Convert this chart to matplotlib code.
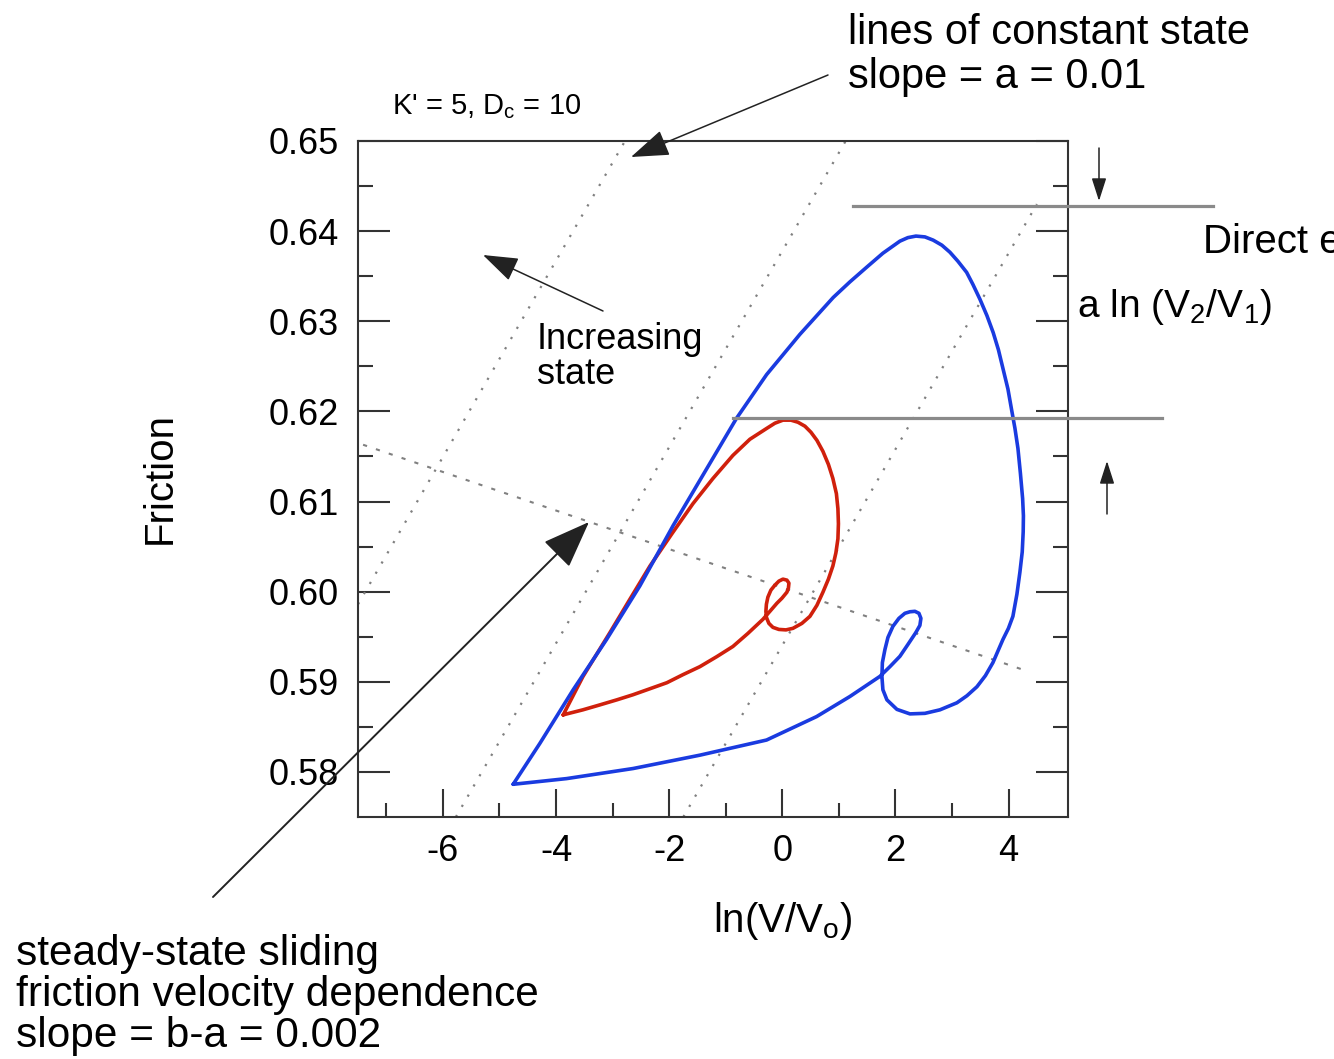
import matplotlib
matplotlib.use('Agg')
import matplotlib.pyplot as plt
from matplotlib.patches import FancyArrowPatch

plt.rcParams['font.family'] = ['Liberation Sans', 'DejaVu Sans']
plt.rcParams['mathtext.fontset'] = 'custom'
plt.rcParams['mathtext.rm'] = 'Liberation Sans'
plt.rcParams['mathtext.it'] = 'Liberation Sans'
plt.rcParams['axes.unicode_minus'] = False

# ---------------- data ----------------
blue_lnv = [-4.757, -4.285, -3.696, -3.106, -2.517, -1.929, -1.404, -0.808, -0.278, 0.311,
            0.900, 1.195, 1.490, 1.778, 2.079, 2.220, 2.362, 2.521, 2.667, 2.821,
            2.963, 3.104, 3.258, 3.369, 3.493, 3.617, 3.728, 3.820, 3.905, 3.988,
            4.053, 4.112, 4.165, 4.209, 4.248, 4.262, 4.258, 4.241, 4.200, 4.147,
            4.076, 3.997, 3.900, 3.723, 3.590, 3.440, 3.263, 3.086, 2.786, 2.521,
            2.256, 2.026, 1.849, 1.778, 1.761, 1.769, 1.814, 1.867, 1.955, 2.061,
            2.167, 2.256, 2.344, 2.415, 2.450, 2.432, 2.362, 2.220, 2.079, 1.902,
            1.725, 1.195, 0.606, -0.278, -1.457, -2.636, -3.813, -4.757]
blue_mu = [0.57863, 0.58317, 0.58912, 0.59470, 0.60065, 0.60734, 0.61292, 0.61925, 0.62408, 0.62855,
           0.63264, 0.63437, 0.63599, 0.63755, 0.63889, 0.63928, 0.63945, 0.63936, 0.63900, 0.63844,
           0.63766, 0.63666, 0.63543, 0.63409, 0.63245, 0.63063, 0.62874, 0.62684, 0.62464, 0.62249,
           0.62018, 0.61813, 0.61590, 0.61311, 0.61032, 0.60842, 0.60664, 0.60441, 0.60217, 0.59972,
           0.59726, 0.59593, 0.59470, 0.59213, 0.59068, 0.58945, 0.58845, 0.58767, 0.58689, 0.58650,
           0.58644, 0.58694, 0.58800, 0.58912, 0.59057, 0.59213, 0.59358, 0.59492, 0.59615, 0.59704,
           0.59760, 0.59777, 0.59782, 0.59760, 0.59704, 0.59626, 0.59548, 0.59414, 0.59283, 0.59168,
           0.59060, 0.58837, 0.58614, 0.58354, 0.58186, 0.58038, 0.57926, 0.57863]

red_lnv = [-3.873, -3.525, -3.048, -2.694, -2.340, -1.952, -1.580, -1.227, -0.873, -0.573,
           -0.272, -0.131, 0.011, 0.152, 0.276, 0.400, 0.506, 0.612, 0.718, 0.815,
           0.894, 0.956, 0.983, 0.992, 0.983, 0.947, 0.894, 0.815, 0.718, 0.612,
           0.488, 0.346, 0.187, 0.064, -0.060, -0.166, -0.237, -0.281, -0.290, -0.281,
           -0.255, -0.202, -0.131, -0.060, 0.011, 0.081, 0.117, 0.108, 0.081, -0.007,
           -0.095, -0.219, -0.343, -0.608, -0.873, -1.156, -1.457, -1.757, -2.040, -2.340,
           -2.641, -2.924, -3.224, -3.525, -3.808, -3.873]
red_mu = [0.58633, 0.59057, 0.59545, 0.59916, 0.60284, 0.60642, 0.60976, 0.61255, 0.61512, 0.61691,
          0.61813, 0.61869, 0.61903, 0.61903, 0.61880, 0.61836, 0.61769, 0.61679, 0.61557, 0.61412,
          0.61256, 0.61088, 0.60921, 0.60753, 0.60586, 0.60430, 0.60285, 0.60139, 0.59994, 0.59849,
          0.59726, 0.59648, 0.59593, 0.59576, 0.59581, 0.59604, 0.59648, 0.59715, 0.59782, 0.59860,
          0.59939, 0.60017, 0.60072, 0.60117, 0.60139, 0.60128, 0.60095, 0.60039, 0.59994, 0.59927,
          0.59872, 0.59782, 0.59693, 0.59537, 0.59392, 0.59280, 0.59168, 0.59079, 0.58990, 0.58923,
          0.58856, 0.58800, 0.58744, 0.58689, 0.58644, 0.58633]

# lines of constant state (slope ~ a) : end points
const_state_x = [[-7.50, -2.78], [-5.77, 1.12], [-1.75, 4.50]]
const_state_y = [[0.5986, 0.6500], [0.5750, 0.6500], [0.5750, 0.6430]]
# steady-state line (slope b-a)
ss_x = [-7.41, 4.32]
ss_y = [0.6163, 0.5912]
# direct effect marker levels
direct_upper = 0.6428
direct_lower = 0.61925

x_ticks = [-6, -4, -2, 0, 2, 4]
x_minor = [-7, -5, -3, -1, 1, 3]
y_ticks = [0.58, 0.59, 0.60, 0.61, 0.62, 0.63, 0.64, 0.65]
y_labels = ['0.58', '0.59', '0.60', '0.61', '0.62', '0.63', '0.64', '0.65']
y_minor = [0.585, 0.595, 0.605, 0.615, 0.625, 0.635, 0.645]

# ---------------- figure ----------------
W, H = 1334, 1059
fig = plt.figure(figsize=(W / 100, H / 100), dpi=100)
ax = fig.add_axes([358 / W, 1 - 817 / H, (1068 - 358) / W, (817 - 141) / H])


def fx(px):
    return px / W


def fy(py):
    return 1 - py / H


ax.set_xlim(-7.5, 5.05)
ax.set_ylim(0.575, 0.65)

dot_col = '#808080'
for xs, ys in zip(const_state_x, const_state_y):
    ax.plot(xs, ys, color=dot_col, lw=1.6, ls=(0, (1, 4.3)))
ax.plot(ss_x, ss_y, color=dot_col, lw=1.5, ls=(0, (2, 4.5)))

ax.plot(red_lnv, red_mu, color='#d0200c', lw=2.6, solid_joinstyle='round',
        solid_capstyle='round', zorder=3)
ax.plot(blue_lnv, blue_mu, color='#1a3be0', lw=2.6, solid_joinstyle='round',
        solid_capstyle='round', zorder=4)

# direct-effect level lines (extend outside the axes)
ax.plot([1.243, 7.617], [direct_upper, direct_upper], color='#8a8a8a', lw=2.3,
        clip_on=False, zorder=5)
ax.plot([-0.868, 6.705], [direct_lower, direct_lower], color='#8a8a8a', lw=2.3,
        clip_on=False, zorder=5)

ax.set_xticks(x_ticks)
ax.set_xticklabels([str(t) for t in x_ticks])
ax.set_xticks(x_minor, minor=True)
ax.set_yticks(y_ticks)
ax.set_yticklabels(y_labels)
ax.set_yticks(y_minor, minor=True)
ax.tick_params(axis='both', which='both', direction='in', colors='#333333')
ax.tick_params(axis='y', which='both', left=True, right=True)
ax.tick_params(axis='x', which='both', top=False, bottom=True)
ax.tick_params(axis='y', which='major', length=23, width=1.5, labelsize=26, pad=14,
               labelcolor='black')
ax.tick_params(axis='y', which='minor', length=11, width=1.5)
ax.tick_params(axis='x', which='major', length=20, width=1.5, labelsize=26, pad=12,
               labelcolor='black')
ax.tick_params(axis='x', which='minor', length=10, width=1.5)
for s in ax.spines.values():
    s.set_linewidth(1.5)
    s.set_color('#333333')

# axis labels
fig.text(fx(160), fy(478), 'Friction', rotation=90, ha='center', va='center', fontsize=29)
fig.text(fx(783), fy(932), r'ln(V/V$_\mathregular{o}$)', ha='center', va='baseline', fontsize=29)

# annotation texts
fig.text(fx(392), fy(114), r"K' = 5, D$_\mathregular{c}$ = 10", fontsize=21, va='baseline')
fig.text(fx(848), fy(44), 'lines of constant state', fontsize=30, va='baseline')
fig.text(fx(848), fy(88), 'slope = a = 0.01', fontsize=30, va='baseline')
fig.text(fx(537), fy(349), 'Increasing', fontsize=26, va='baseline')
fig.text(fx(537), fy(384), 'state', fontsize=26, va='baseline')
fig.text(fx(1203), fy(253), 'Direct effect', fontsize=29, va='baseline')
fig.text(fx(1077), fy(317), r'a ln (V$_\mathregular{2}$/V$_\mathregular{1}$)', fontsize=28,
         va='baseline')
fig.text(fx(16), fy(965), 'steady-state sliding', fontsize=30.5, va='baseline')
fig.text(fx(16), fy(1006), 'friction velocity dependence', fontsize=30.5, va='baseline')
fig.text(fx(16), fy(1047), 'slope = b-a = 0.002', fontsize=30.5, va='baseline')


def arrow(tail, head, hl, hw, ms, lw, col):
    p = FancyArrowPatch((fx(tail[0]), fy(tail[1])), (fx(head[0]), fy(head[1])),
                        transform=fig.transFigure,
                        arrowstyle='-|>,head_length=%g,head_width=%g' % (hl, hw),
                        mutation_scale=ms, lw=lw, color=col, shrinkA=0, shrinkB=0,
                        zorder=10)
    fig.add_artist(p)


arrow((828, 75), (631, 157), 1.0, 0.35, 24, 1.1, '#222222')
arrow((603, 311), (483, 255), 1.0, 0.35, 22, 1.1, '#222222')
arrow((213, 897), (589, 522), 1.0, 0.38, 30, 1.4, '#222222')
arrow((1099, 148), (1099, 201), 1.0, 0.32, 14, 1.1, '#222222')
arrow((1107, 514), (1107, 461), 1.0, 0.32, 14, 1.1, '#222222')

fig.savefig('out.png', dpi=100)
